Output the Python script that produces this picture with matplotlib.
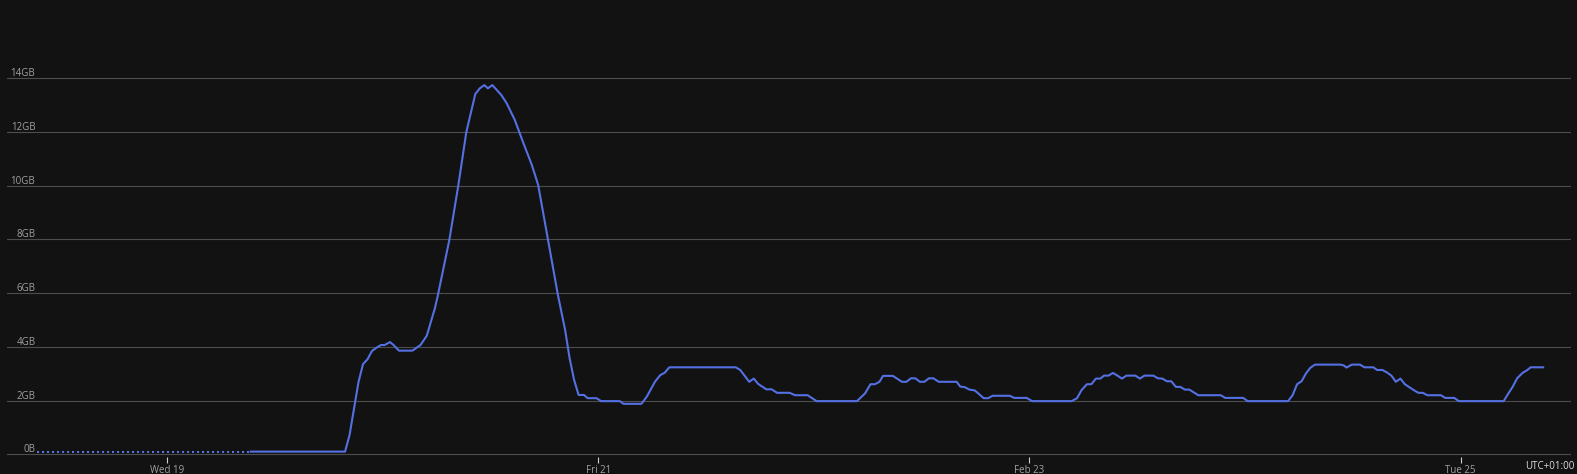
import matplotlib
matplotlib.use('Agg')
import matplotlib.pyplot as plt
import matplotlib.transforms as mtransforms
import pandas as pd

# memory usage, hours after Wed 19 Feb 00:00 (UTC+01:00), values in GB
gap_hours = [-14.5, 9.3]
gap_gb = [0.1, 0.1]

hours = [9.3, 19.8, 20.3, 21.3, 21.8, 22.3, 22.8, 23.3, 23.8, 24.2, 24.8, 25.2, 25.8,
         27.3, 28.2, 28.9, 29.8, 30.1, 31.4, 32.4, 33.3, 33.7, 34.3, 34.8, 35.3, 35.7,
         36.2, 37.2, 37.8, 38.7, 39.6, 40.6, 41.3, 42.4, 43.5, 44.3, 44.8, 45.3, 45.8,
         46.4, 46.8, 47.8, 48.3, 50.4, 50.8, 52.8, 53.4, 54.3, 54.9, 55.4, 55.9, 63.3,
         63.8, 64.8, 65.3, 65.8, 66.7, 67.3, 67.9, 69.3, 69.9, 71.3, 72.3, 76.8, 77.7,
         78.3, 78.8, 79.3, 79.7, 80.8, 81.8, 82.3, 82.8, 83.3, 83.8, 84.3, 84.8, 85.3,
         85.9, 87.9, 88.3, 88.8, 89.3, 89.9, 90.3, 90.9, 91.4, 91.9, 93.8, 94.3, 95.7,
         96.3, 100.7, 101.3, 101.8, 102.4, 102.9, 103.4, 103.9, 104.3, 104.8, 105.3,
         105.8, 106.3, 106.8, 107.8, 108.3, 108.8, 109.8, 110.3, 110.8, 111.3, 111.8,
         112.3, 112.8, 113.3, 113.8, 114.8, 117.3, 117.8, 119.8, 120.3, 124.8, 125.3,
         125.8, 126.3, 126.8, 127.3, 127.8, 130.6, 131.0, 131.3, 131.9, 132.8, 133.3,
         134.3, 134.7, 135.3, 135.8, 136.3, 136.8, 137.3, 137.8, 138.7, 139.3, 139.8,
         140.3, 141.8, 142.3, 143.3, 143.8, 148.8, 149.2, 149.8, 150.3, 150.9, 151.4,
         151.8, 153.2]
gb = [0.1, 0.1, 0.72, 2.7, 3.36, 3.54, 3.85, 3.97, 4.07, 4.07, 4.18, 4.07, 3.86,
      3.86, 4.07, 4.42, 5.44, 5.87, 7.97, 10.0, 12.0, 12.57, 13.42, 13.63, 13.75, 13.63,
      13.75, 13.38, 13.07, 12.45, 11.64, 10.77, 10.03, 7.98, 5.93, 4.63, 3.58, 2.77, 2.21,
      2.21, 2.09, 2.09, 1.98, 1.98, 1.88, 1.88, 2.15, 2.7, 2.95, 3.04, 3.24, 3.24,
      3.14, 2.7, 2.82, 2.62, 2.42, 2.42, 2.29, 2.29, 2.2, 2.2, 1.98, 1.98, 2.27,
      2.61, 2.61, 2.7, 2.92, 2.92, 2.7, 2.7, 2.83, 2.83, 2.7, 2.7, 2.83, 2.83,
      2.7, 2.7, 2.52, 2.5, 2.41, 2.38, 2.27, 2.09, 2.09, 2.18, 2.18, 2.1, 2.1,
      1.98, 1.98, 2.09, 2.39, 2.61, 2.61, 2.82, 2.82, 2.93, 2.93, 3.03,
      2.93, 2.82, 2.93, 2.93, 2.82, 2.93, 2.93, 2.83, 2.82, 2.72, 2.72,
      2.51, 2.51, 2.41, 2.41, 2.2, 2.2, 2.1, 2.1, 1.98, 1.98, 2.2,
      2.61, 2.72, 3.02, 3.23, 3.34, 3.34, 3.31, 3.23, 3.34, 3.34, 3.24,
      3.24, 3.14, 3.14, 3.05, 2.93, 2.7, 2.82, 2.61, 2.41, 2.29, 2.29,
      2.2, 2.2, 2.1, 2.1, 1.98, 1.98, 2.2, 2.51, 2.83, 3.03, 3.13,
      3.24, 3.24]

y_ticks = [0, 2, 4, 6, 8, 10, 12, 14]
y_labels = ['0B', '2GB', '4GB', '6GB', '8GB', '10GB', '12GB', '14GB']
x_ticks = ['2025-02-19', '2025-02-21', '2025-02-23', '2025-02-25']
x_labels = ['Wed 19', 'Fri 21', 'Feb 23', 'Tue 25']

base = pd.Timestamp('2025-02-19')
to_time = lambda h: base + pd.to_timedelta(h, unit='h')

plt.rcParams['font.family'] = ['Open Sans', 'DejaVu Sans']

bg = '#121212'
line_color = '#5470E2'
text_color = '#a0a0a0'

fig = plt.figure(figsize=(15.77, 4.74), dpi=100, facecolor=bg)
ax = fig.add_axes([0.0044, 0.0359, 0.9918, 0.912], facecolor=bg)

ax.plot(to_time(gap_hours), gap_gb, color=line_color, lw=1.5, linestyle=(0, (1, 1.4)))
ax.plot(to_time(hours), gb, color=line_color, lw=1.5, solid_joinstyle='round')

ax.set_xlim(to_time(-17.85), to_time(156.3))
ax.set_ylim(-0.1, 16)

for s in ax.spines.values():
    s.set_visible(False)

ax.set_yticks(y_ticks)
ax.set_yticklabels([])
ax.tick_params(axis='y', length=0)
ax.grid(axis='y', color='#4d4d4d', lw=0.8)
ax.set_axisbelow(True)

# y labels sit inside the plot, right-aligned, just above each gridline
off = mtransforms.offset_copy(ax.get_yaxis_transform(), fig=fig, x=0, y=2, units='dots')
for v, lab in zip(y_ticks, y_labels):
    ax.text(0.0182, v, lab, transform=off, ha='right', va='baseline',
            color=text_color, fontsize=7)

ax.set_xticks(pd.to_datetime(x_ticks))
ax.set_xticklabels(x_labels)
ax.tick_params(axis='x', colors='#cfcfcf', length=4, width=0.8, pad=2,
               labelsize=7, labelcolor=text_color)

fig.text(0.9985, 0.004, 'UTC+01:00', ha='right', va='bottom', color='#dddddd', fontsize=7)

fig.savefig('out.png', dpi=100, facecolor=bg)
